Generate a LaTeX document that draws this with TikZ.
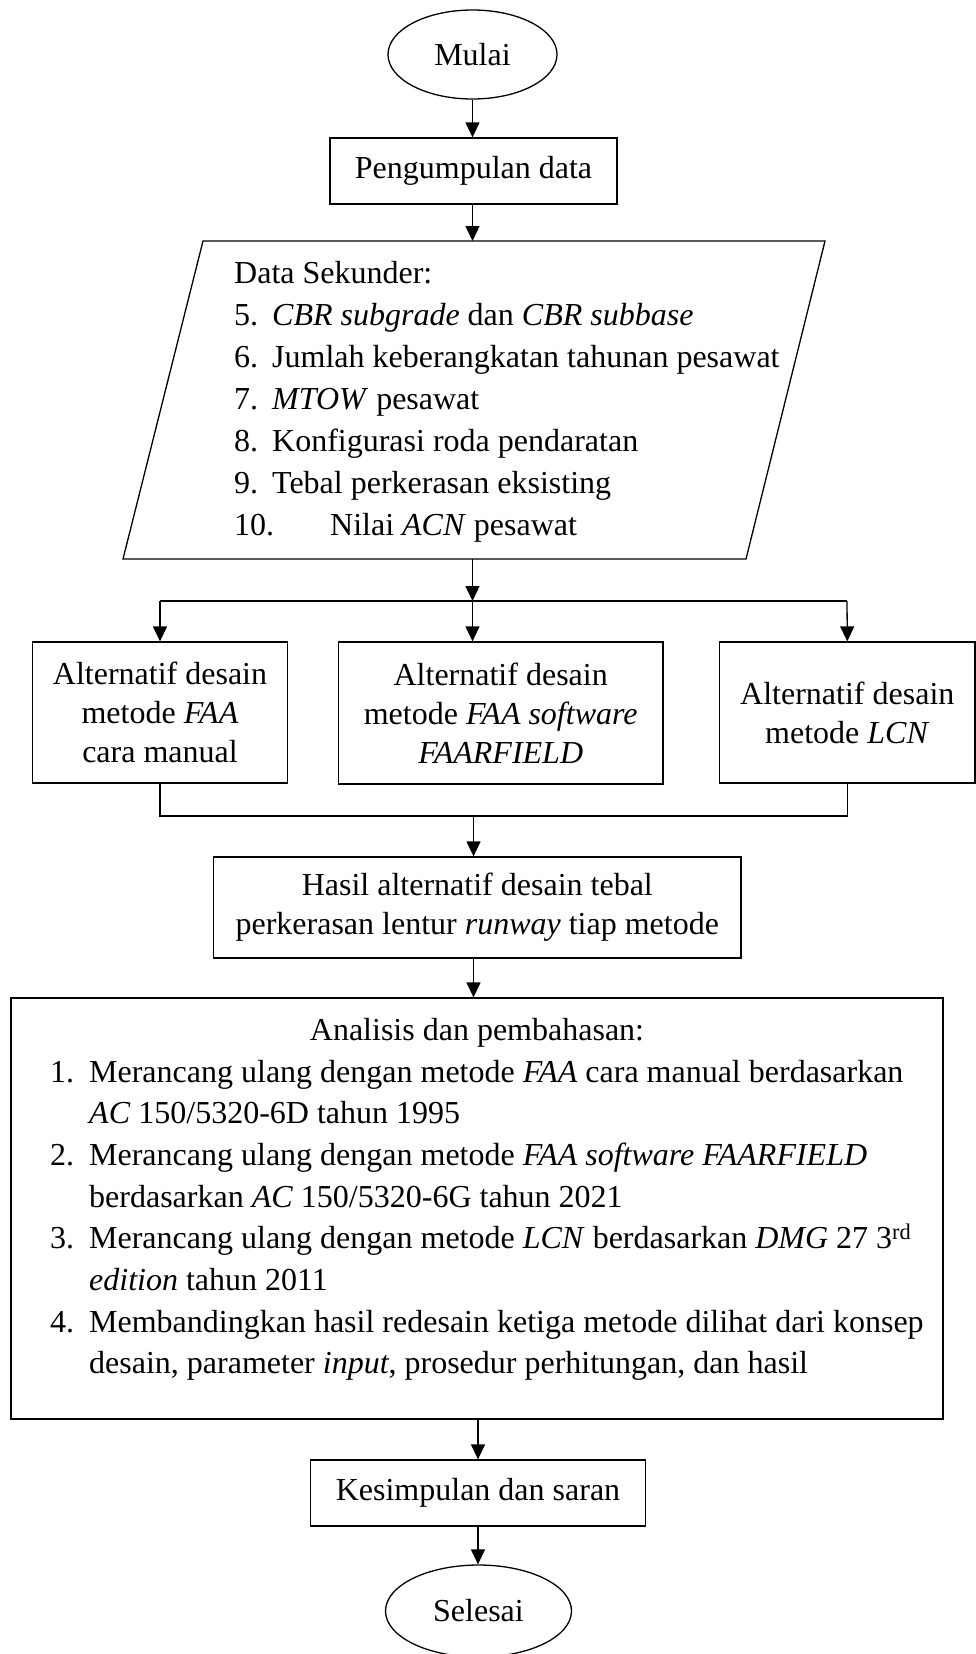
\documentclass[tikz,border=0pt]{standalone}
\usepackage{fontspec}
\setmainfont{Liberation Serif}
\usetikzlibrary{shapes.geometric,arrows.meta}
\tikzset{
  lw/.style={line width=1.3pt},
  shapebox/.style={draw, lw, rectangle, inner sep=0pt, align=center,
    font=\fontsize{32}{39}\selectfont},
  oval/.style={draw, lw, ellipse, inner sep=0pt,
    font=\fontsize{32}{39}\selectfont},
  txt/.style={inner sep=0pt, font=\fontsize{32}{39}\selectfont},
  arr/.style={lw, -{Triangle[length=15pt,width=14pt]}},
  conn/.style={lw}
}
\begin{document}
\begin{tikzpicture}[x=1pt,y=-1pt]
\useasboundingbox (0,0) rectangle (976,1654);

% --- nodes ---
\node[oval, minimum width=169pt, minimum height=89pt] (mulai) at (472.5,54.5) {Mulai};
\node[shapebox, minimum width=287pt, minimum height=66pt] (pg) at (473.5,171) {Pengumpulan data};

% parallelogram
\coordinate (pTL) at (203,241);
\coordinate (pTR) at (825,241);
\coordinate (pBR) at (746,559);
\coordinate (pBL) at (123,559);
\coordinate (pTop) at (472.5,241);
\coordinate (pBot) at (472.5,559);
\draw[lw, line join=miter] (pBL) -- (pTL) -- (pTR) -- (pBR) -- cycle;

\node[txt, anchor=base west] (d0) at (234,283) {Data Sekunder:};
\node[txt, anchor=base west] (d1) at (234,325) {\makebox[38pt][l]{5.}\textit{CBR subgrade} dan \textit{CBR subbase}};
\node[txt, anchor=base west] (d2) at (234,367) {\makebox[38pt][l]{6.}Jumlah keberangkatan tahunan pesawat};
\node[txt, anchor=base west] (d3) at (234,409) {\makebox[38pt][l]{7.}\textit{MTOW} pesawat};
\node[txt, anchor=base west] (d4) at (234,451) {\makebox[38pt][l]{8.}Konfigurasi roda pendaratan};
\node[txt, anchor=base west] (d5) at (234,493) {\makebox[38pt][l]{9.}Tebal perkerasan eksisting};
\node[txt, anchor=base west] (d6) at (234,535) {\makebox[96pt][l]{10.}Nilai \textit{ACN} pesawat};

% split
\coordinate (j1) at (472.5,601);
\coordinate (jL) at (160,601);
\coordinate (jR) at (847,601);

\node[shapebox, minimum width=255.5pt, minimum height=141pt] (b1) at (160,712.5)
  {Alternatif desain\\metode \textit{FAA}\\cara manual};
\node[shapebox, minimum width=324.5pt, minimum height=142pt] (b2) at (500.7,713)
  {Alternatif desain\\metode \textit{FAA software}\\\textit{FAARFIELD}};
\node[shapebox, minimum width=255.5pt, minimum height=141pt] (b3) at (847.3,712.5)
  {Alternatif desain\\metode \textit{LCN}};

\coordinate (jB) at (473.5,816);

\node[shapebox, minimum width=527.5pt, minimum height=101pt] (hasil) at (477.3,907.5)
  {Hasil alternatif desain tebal\\perkerasan lentur \textit{runway} tiap metode};

\node[draw, lw, rectangle, inner sep=0pt, minimum width=932pt, minimum height=421pt] (anl) at (477,1208.5) {};

\node[txt, anchor=base] (a0) at (477,1040) {Analisis dan pembahasan:};
\node[txt, anchor=base west] (a1) at (50,1082) {\makebox[39pt][l]{1.}Merancang ulang dengan metode \textit{FAA} cara manual berdasarkan};
\node[txt, anchor=base west] (a1b) at (89,1123.5) {\textit{AC} 150/5320-6D tahun 1995};
\node[txt, anchor=base west] (a2) at (50,1165) {\makebox[39pt][l]{2.}Merancang ulang dengan metode \textit{FAA software FAARFIELD}};
\node[txt, anchor=base west] (a2b) at (89,1207) {berdasarkan \textit{AC} 150/5320-6G tahun 2021};
\node[txt, anchor=base west] (a3) at (50,1248.5) {\makebox[39pt][l]{3.}Merancang ulang dengan metode \textit{LCN} berdasarkan \textit{DMG} 27 3\textsuperscript{rd}};
\node[txt, anchor=base west] (a3b) at (89,1290) {\textit{edition} tahun 2011};
\node[txt, anchor=base west] (a4) at (50,1332) {\makebox[39pt][l]{4.}Membandingkan hasil redesain ketiga metode dilihat dari konsep};
\node[txt, anchor=base west] (a4b) at (89,1373.5) {desain, parameter \textit{input}, prosedur perhitungan, dan hasil};

\node[shapebox, minimum width=335pt, minimum height=66pt] (kes) at (478,1493) {Kesimpulan dan saran};
\node[oval, minimum width=186pt, minimum height=92pt] (sel) at (478.5,1611) {Selesai};

% --- connectors ---
\draw[arr] (mulai.south) -- (mulai.south |- pg.north);
\draw[arr] (mulai.south |- pg.south) -- (pTop);
\draw[arr] (pBot) -- (j1);
\draw[conn] (jL) -- (jR);
\draw[arr] (jL) -- (b1.north);
\draw[arr] (j1) -- (j1 |- b2.north);
\draw[arr] (jR) -- (b3.north);
\draw[conn] (b1.south) -- (b1.south |- jB) -- (b3.south |- jB) -- (b3.south);
\draw[arr] (jB) -- (jB |- hasil.north);
\draw[arr] (jB |- hasil.south) -- (jB |- anl.north);
\draw[arr] (kes.north |- anl.south) -- (kes.north);
\draw[arr] (kes.south) -- (kes.south |- sel.north);
\end{tikzpicture}
\end{document}
